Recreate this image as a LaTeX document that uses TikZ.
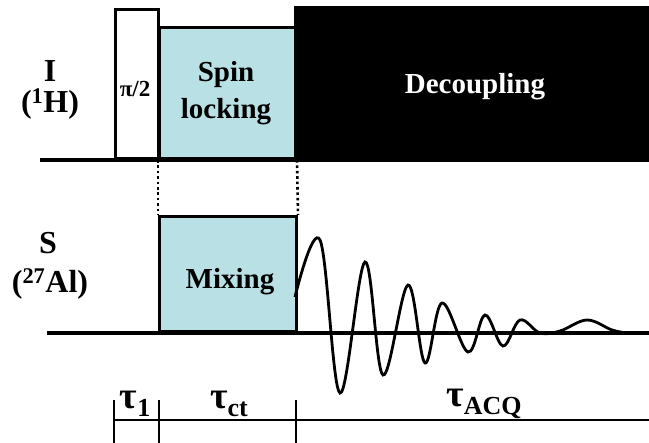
\documentclass[tikz,border=0pt]{standalone}
\usepackage{fontspec}
\setmainfont{Liberation Serif}
\usetikzlibrary{positioning}
\definecolor{lockblue}{RGB}{185,224,228}
\newcommand{\tsub}[1]{{\fontsize{26}{26}\selectfont\raisebox{-8pt}{#1}}}

\begin{document}
\begin{tikzpicture}[x=1pt, y=-1pt,
    font=\bfseries\fontsize{29}{31}\selectfont,
    pulse/.style={draw, line width=3pt, inner sep=0pt, anchor=south west},
    rail/.style={line width=4.6pt},
    chan/.style={font=\bfseries\fontsize{32}{32}\selectfont, inner sep=1pt},
    tickmark/.style={line width=2.4pt},
    tau/.style={font=\bfseries\fontsize{38}{38}\selectfont}]
  \useasboundingbox (0,0) rectangle (649,443);
  % channel labels
  \node[chan] (iname) at (50,71) {I};
  \node[chan] (inuc) at (50,104) {(\textsuperscript{1}H)};
  \node[chan] (sname) at (48,243) {S};
  \node[chan] (snuc) at (50,284) {(\textsuperscript{27}Al)};
  % base lines
  \draw[rail] (40,160) -- (649,160);
  \draw[rail] (47,333) -- (649,333);
  % pulses
  \node[pulse, fill=white, minimum width=43pt, minimum height=149pt] (pi) at (114,160) {};
  \node[pulse, fill=lockblue, minimum width=136pt, minimum height=131pt] (lock) at (158,160) {};
  \node[pulse, fill=black, minimum width=356pt, minimum height=151pt] (dec) at (294,160) {};
  \node[pulse, fill=lockblue, minimum width=137pt, minimum height=115pt] (mix) at (158,333) {};
  \node[font=\bfseries\fontsize{23}{23}\selectfont] (pilabel) at (135,89) {π/2};
  \node[align=center, font=\bfseries\fontsize{29}{37}\selectfont] (locklabel) at (226,93) {Spin\\locking};
  \node[text=white] (declabel) at (475,87) {Decoupling};
  \node (mixlabel) at (230,282) {Mixing};
  \draw[line width=2.6pt, dash pattern=on 2.6pt off 2.8pt] (lock.south west) -- (mix.north west);
  \draw[line width=2.6pt, dash pattern=on 2.6pt off 2.8pt] (lock.south east) -- (mix.north east);
  % acquisition
  \draw[line width=2.8pt] plot[smooth, tension=0.6] coordinates {
    (295,297) (320,240) (340,393) (365,262) (383,375) (408,285) (425,363)
    (442,303) (468,352) (485,315) (503,346) (520,320) (540,333) (560,331)
    (587,320) (612,330) (627,333)};
  % time axis
  \coordinate (t0) at (114,420);
  \coordinate (t1) at (159,420);
  \coordinate (t2) at (296,420);
  \coordinate (tend) at (649,420);
  \draw[line width=1.2pt] (t0) -- (tend);
  \foreach \t in {t0,t1,t2}
    \draw[tickmark] ([yshift=20pt]\t) -- ([yshift=-24pt]\t);
  \node[tau] (tau1) at (135,404) {τ\tsub{1}};
  \node[tau] (tauct) at (229,404) {τ\tsub{ct}};
  \node[tau] (tauacq) at (484,404) {τ\tsub{ACQ}};
\end{tikzpicture}
\end{document}
